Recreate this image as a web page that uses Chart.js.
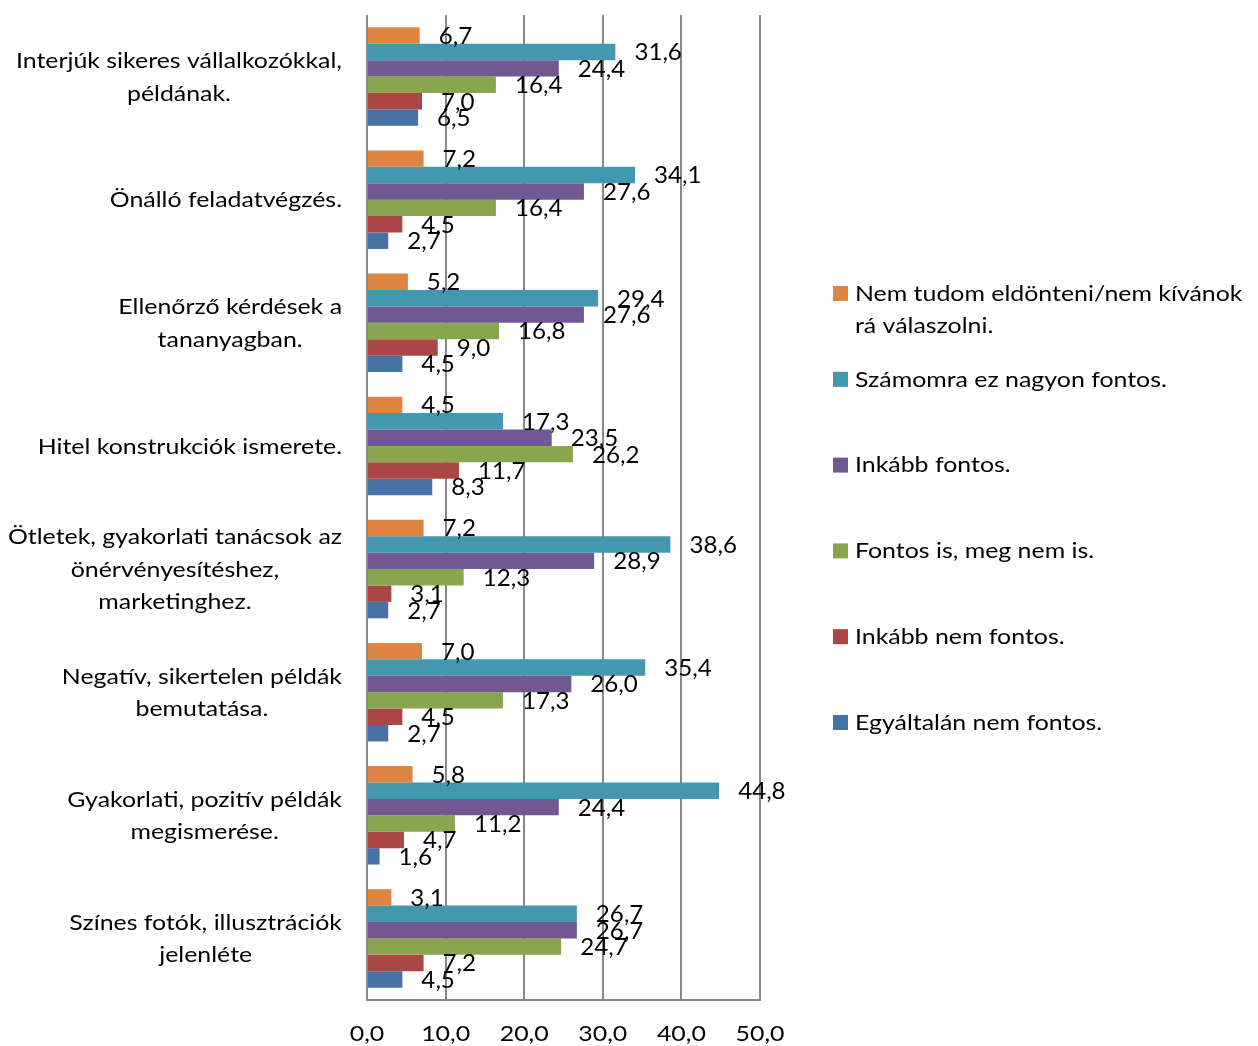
<!DOCTYPE html>
<html>
<head>
<meta charset="utf-8">
<script src="https://cdn.jsdelivr.net/npm/chart.js@4/dist/chart.umd.min.js"></script>
<style>
  html, body { margin: 0; background: #fff; }
  #wrap { width: 1258px; height: 1046px; }
</style>
</head>
<body>
<div id="wrap"><canvas id="grafico" width="1258" height="1046"></canvas></div>
<script>
// Kategóriák (fentről lefelé), a sortörés helyét '\n' jelzi
const kategoriak = [
  'Interjúk sikeres vállalkozókkal,\npéldának.',
  'Önálló feladatvégzés.',
  'Ellenőrző kérdések a\ntananyagban.',
  'Hitel konstrukciók ismerete.',
  'Ötletek, gyakorlati tanácsok az\nönérvényesítéshez,\nmarketinghez.',
  'Negatív, sikertelen példák\nbemutatása.',
  'Gyakorlati, pozitív példák\nmegismerése.',
  'Színes fotók, illusztrációk\njelenléte'
];

const sorozatNevek = [
  'Nem tudom eldönteni/nem kívánok rá válaszolni.',
  'Számomra ez nagyon fontos.',
  'Inkább fontos.',
  'Fontos is, meg nem is.',
  'Inkább nem fontos.',
  'Egyáltalán nem fontos.'
];

const nemTudom      = [6.7, 7.2, 5.2, 4.5, 7.2, 7.0, 5.8, 3.1];
const nagyonFontos  = [31.6, 34.1, 29.4, 17.3, 38.6, 35.4, 44.8, 26.7];
const inkabbFontos  = [24.4, 27.6, 27.6, 23.5, 28.9, 26.0, 24.4, 26.7];
const fontosIsNemIs = [16.4, 16.4, 16.8, 26.2, 12.3, 17.3, 11.2, 24.7];
const inkabbNem     = [7.0, 4.5, 9.0, 11.7, 3.1, 4.5, 4.7, 7.2];
const egyaltalanNem = [6.5, 2.7, 4.5, 8.3, 2.7, 2.7, 1.6, 4.5];

const xTickek = [0, 10, 20, 30, 40, 50];

const szinek = ['#dd8541', '#4398b0', '#725891', '#89a54e', '#aa4643', '#4572a7'];
const ertekek = [nemTudom, nagyonFontos, inkabbFontos, fontosIsNemIs, inkabbNem, egyaltalanNem];

const BETU = 'Lato, "Open Sans", sans-serif';
const SZOVEG = '21px ' + BETU;   // kategóriák, tengely, jelmagyarázat
const SZOVEG_SX = 1.185;         // az eredeti szöveg szélesebb, vízszintesen nyújtjuk
const ADAT = '23px ' + BETU;     // adatfeliratok
const ADAT_SX = 1.05;

const szam = (v) => v.toFixed(1).replace('.', ',');

function irj(ctx, s, x, y, igazitas, sx) {
  ctx.save();
  ctx.translate(x, y);
  ctx.scale(sx, 1);
  ctx.textAlign = igazitas;
  ctx.fillText(s, 0, 0);
  ctx.restore();
}

// Kategórianevek: blokk jobbra igazítva, sorok középre
const kategoriaFeliratok = {
  id: 'kategoriaFeliratok',
  afterDraw(chart) {
    const { ctx } = chart;
    const y = chart.scales.y;
    ctx.save();
    ctx.font = SZOVEG;
    ctx.fillStyle = '#000';
    ctx.textBaseline = 'middle';
    const jobb = 342, sorMagassag = 32.5;
    kategoriak.forEach((k, i) => {
      const sorok = k.split('\n');
      const szel = Math.max(...sorok.map((s) => ctx.measureText(s).width)) * SZOVEG_SX;
      const kozep = y.getPixelForValue(i) + 1;
      const elso = kozep - (sorok.length - 1) * sorMagassag / 2;
      sorok.forEach((s, j) => irj(ctx, s, jobb - szel / 2, elso + j * sorMagassag, 'center', SZOVEG_SX));
    });
    // x tengely feliratai
    const x = chart.scales.x;
    xTickek.forEach((v) => irj(ctx, szam(v), x.getPixelForValue(v), 1034, 'center', SZOVEG_SX));
    ctx.restore();
  }
};

// Adatfeliratok a sávok végén
const adatFeliratok = {
  id: 'adatFeliratok',
  afterDatasetsDraw(chart) {
    const { ctx } = chart;
    ctx.save();
    ctx.font = ADAT;
    ctx.fillStyle = '#000';
    ctx.textBaseline = 'middle';
    chart.data.datasets.forEach((ds, i) => {
      chart.getDatasetMeta(i).data.forEach((bar, j) => {
        irj(ctx, szam(ds.data[j]), bar.x + 19, bar.y + 1, 'left', ADAT_SX);
      });
    });
    ctx.restore();
  }
};

// Jelmagyarázat jobb oldalt, tördelt szöveggel
const jelmagyarazat = {
  id: 'jelmagyarazat',
  afterDraw(chart) {
    const { ctx } = chart;
    ctx.save();
    ctx.font = SZOVEG;
    ctx.textBaseline = 'middle';
    const x = 833, y0 = 294, lepes = 85.8, maxSzel = 395;
    chart.data.datasets.forEach((ds, i) => {
      const y = y0 + i * lepes;
      ctx.fillStyle = ds.backgroundColor;
      ctx.fillRect(x, y - 8, 15, 15);
      ctx.fillStyle = '#000';
      const szavak = ds.label.split(' ');
      let sor = '', sy = y;
      szavak.forEach((sz) => {
        const proba = sor ? sor + ' ' + sz : sz;
        if (ctx.measureText(proba).width * SZOVEG_SX > maxSzel && sor) {
          irj(ctx, sor, x + 22, sy, 'left', SZOVEG_SX);
          sor = sz;
          sy += 32;
        } else {
          sor = proba;
        }
      });
      irj(ctx, sor, x + 22, sy, 'left', SZOVEG_SX);
    });
    ctx.restore();
  }
};

new Chart(document.getElementById('grafico'), {
  type: 'bar',
  data: {
    labels: kategoriak.map((k) => k.replace(/\n/g, ' ')),
    datasets: sorozatNevek.map((nev, i) => ({
      label: nev,
      data: ertekek[i],
      backgroundColor: szinek[i],
      borderWidth: 0,
      categoryPercentage: 0.8,
      barPercentage: 1.0,
    })),
  },
  options: {
    indexAxis: 'y',
    responsive: false,
    animation: false,
    devicePixelRatio: 1,
    layout: { padding: { left: 367, right: 498, top: 15, bottom: 46 } },
    plugins: { legend: { display: false }, tooltip: { enabled: false } },
    scales: {
      x: {
        min: 0,
        max: 50,
        afterBuildTicks: (ax) => { ax.ticks = xTickek.map((v) => ({ value: v })); },
        ticks: { display: false },
        grid: { color: '#888', lineWidth: 2, drawTicks: false },
        border: { color: '#888', width: 2 },
      },
      y: { display: false },
    },
  },
  plugins: [kategoriaFeliratok, adatFeliratok, jelmagyarazat],
});
</script>
</body>
</html>
